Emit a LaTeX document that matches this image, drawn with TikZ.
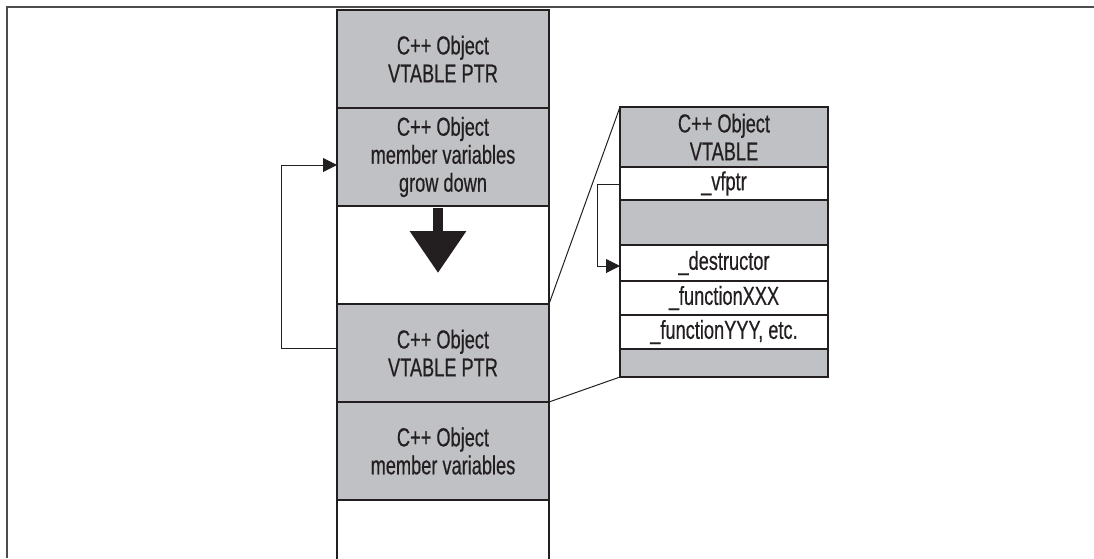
\documentclass[tikz,border=0pt]{standalone}
\usepackage{fontspec}
\setmainfont{Liberation Sans}[FakeStretch=0.7,UprightFeatures={FakeBold=0.5}]
\usepackage{xcolor}
\usepackage{tikz}
\usetikzlibrary{positioning,arrows.meta}

\definecolor{cellgray}{RGB}{192,193,197}
\definecolor{inkline}{RGB}{35,31,32}

\begin{document}
\begin{tikzpicture}[
    x=0.5pt,y=-0.5pt,
    every node/.style={font=\fontsize{13}{14}\selectfont,text=inkline},
    cell/.style={draw=inkline,line width=0.75pt,outer sep=0pt,inner sep=1pt,
        align=center,minimum width=106pt,minimum height=49pt},
    gcell/.style={cell,fill=cellgray},
    vrow/.style={draw=inkline,line width=0.6pt,outer sep=0pt,inner sep=0.5pt,
        align=center,minimum width=104pt},
    gvrow/.style={vrow,fill=cellgray},
    link/.style={draw=inkline,line width=0.5pt},
    tip/.style={-{Triangle[length=7pt,width=7pt]}}
]
    \clip (0,0) rectangle (1094,558);
    \useasboundingbox (0,0) rectangle (1094,558);
    % frame
    \draw[line width=1pt,draw=black!70] (7,558) -- (7,7) -- (1094,7);

    % object stack
    \node[gcell,anchor=north] (vptrA) at (443,10) {C++ Object\\VTABLE PTR};
    \node[gcell,below=0pt of vptrA] (membersA) {C++ Object\\member variables\\grow down};
    \node[cell,below=0pt of membersA] (grow) {};
    \node[gcell,below=0pt of grow] (vptrB) {C++ Object\\VTABLE PTR};
    \node[gcell,below=0pt of vptrB] (membersB) {C++ Object\\member variables};
    \node[cell,below=0pt of membersB] (rest) {};

    \draw[inkline,line width=5pt,-{Triangle[length=21pt,width=27pt]}]
        ([xshift=-2.5pt,yshift=-1pt]grow.north) -- ([xshift=-2.5pt,yshift=-33.5pt]grow.north);

    % vtable
    \node[gvrow,minimum height=30pt,anchor=north west] (vtable) at (620,107) {C++ Object\\VTABLE};
    \node[vrow,minimum height=16.5pt,below=0pt of vtable] (vfptr) {\_vfptr};
    \node[gvrow,minimum height=22.5pt,below=0pt of vfptr] (gap) {};
    \node[vrow,minimum height=18pt,below=0pt of gap] (dtor) {\_destructor};
    \node[vrow,minimum height=17pt,below=0pt of dtor] (fnX) {\_functionXXX};
    \node[vrow,minimum height=17pt,below=0pt of fnX] (fnY) {\_functionYYY, etc.};
    \node[gvrow,minimum height=14pt,below=0pt of fnY] (tail) {};

    % zoom lines
    \draw[link] (grow.south east) -- (vtable.north west);
    \draw[link] (vptrB.south east) -- (tail.south west);

    % pointers
    \draw[link,tip] ([yshift=2.5pt]vptrB.west) -- ++(-28pt,0) |- ([yshift=-4pt]membersA.west);
    \draw[link,tip] ([yshift=-0.5pt]vfptr.west) -- ++(-11.5pt,0) |- ([yshift=-1.5pt]dtor.west);
\end{tikzpicture}
\end{document}
